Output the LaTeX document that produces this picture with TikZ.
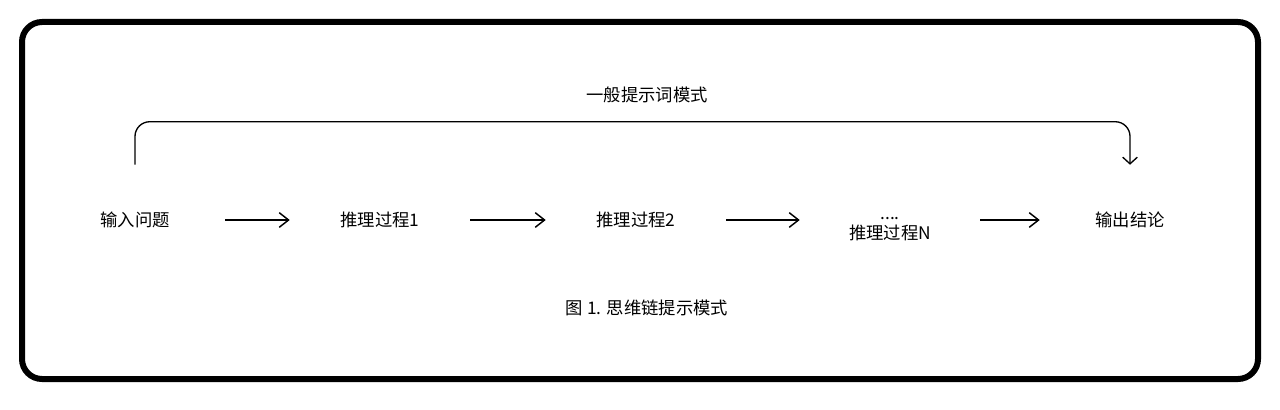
\documentclass[tikz,border=0pt]{standalone}
\usepackage{fontspec}
\setmainfont{Noto Sans CJK SC}
\usetikzlibrary{arrows.meta}

\tikzset{
  stepnode/.style={minimum width=135pt, minimum height=82.5pt, inner sep=0pt, align=center, font=\fontsize{13pt}{15pt}\selectfont},
  flow/.style={line width=1.1pt, -{Straight Barb[length=7pt,width=11pt]}},
  bracket/.style={line width=1pt, rounded corners=11pt, -{Straight Barb[length=5pt,width=11pt]}}
}

\begin{document}
\begin{tikzpicture}[x=0.75pt,y=-0.75pt]
\useasboundingbox (0,0) rectangle (1280,410);
\draw [line width=4.5pt, rounded corners=15pt] (22,22) rectangle (1258,379);
% steps
\node [stepnode] (q) at (135,220) {输入问题};
\node [stepnode] (p1) at (380,220) {推理过程1};
\node [stepnode] (p2) at (636,220) {推理过程2};
\node [stepnode] (pn) at (890,229) {....\\推理过程N};
\node [stepnode] (out) at (1130,220) {输出结论};
\draw [flow] (q) -- (p1);
\draw [flow] (p1) -- (p2);
\draw [flow] (p2) -- (pn.west |- p2);
\draw [flow] (pn.east |- out) -- (out);
% direct prompting
\draw [bracket] (q.north) -- ++(0,-43) -| (out.north);
\node [font=\fontsize{13pt}{15pt}\selectfont] (plain) at (647,95) {一般提示词模式};
\node [font=\fontsize{13pt}{15pt}\selectfont] (caption) at (647,308) {图 1. 思维链提示模式};
\end{tikzpicture}
\end{document}
